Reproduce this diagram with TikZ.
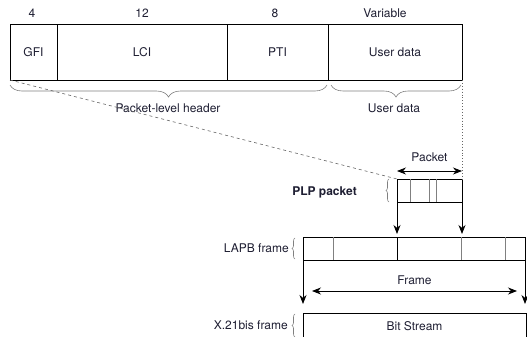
\documentclass[tikz,border=0pt]{standalone}
\usepackage{fontspec}
\setmainfont{TeX Gyre Heros}
\usetikzlibrary{arrows.meta,positioning,decorations.pathreplacing}
\definecolor{ink}{RGB}{30,30,50}

\begin{document}
\begin{tikzpicture}[x=1pt,y=-1pt,>={Stealth[length=9pt,width=7pt]},node distance=0pt,
  font=\fontsize{12}{14}\selectfont,
  txt/.style={text=ink,inner sep=0pt},
  cell/.style={draw,line width=0.8pt,minimum height=56pt,inner sep=0pt,outer sep=0pt,text=ink},
  strip/.style={draw,line width=0.8pt,minimum height=23pt,inner sep=0pt,outer sep=0pt,text=ink},
  divider/.style={gray,line width=0.8pt},
  brc/.style={gray,line width=0.6pt,decorate,decoration={brace,amplitude=#1}}]
  \useasboundingbox (0,0) rectangle (527,337);

  % Intestazione pacchetto
  \node[cell,minimum width=47pt] (gfi) at (33.5,52) {GFI};
  \node[cell,minimum width=170pt,right=of gfi] (lci) {LCI};
  \node[cell,minimum width=101pt,right=of lci] (pti) {PTI};
  \node[cell,minimum width=134pt,right=of pti] (udata) {User data};

  % Lunghezze in bit
  \node[txt] (len4) at (32,13) {4};
  \node[txt] (len12) at (142,13) {12};
  \node[txt] (len8) at (275,13) {8};
  \node[txt] (lenvar) at (385,13) {Variable};

  % Graffe sotto
  \draw[brc=12] (327,85) -- (10,85);
  \draw[brc=12] (461,85) -- (331,85);
  \node[txt] (hdr) at (168,108) {Packet-level header};
  \node[txt] (udlbl) at (394,108) {User data};

  % Pacchetto PLP
  \node[strip,minimum width=65pt] (plp) at (429.5,190.5) {};
  \foreach \dx in {13,32,39}
    \draw[divider] ([xshift=\dx pt]plp.north west) -- ([xshift=\dx pt]plp.south west);
  \draw[brc=3] (389,202) -- (389,179);
  \node[txt,anchor=east,font=\fontsize{12}{14}\selectfont\bfseries] (plplbl) at (357,192) {PLP packet};
  \draw[<->,line width=0.8pt] ([yshift=8pt]plp.north west) -- node[txt,above=9pt] (pktlbl) {Packet} ([yshift=8pt]plp.north east);

  % Linee di proiezione
  \draw[dashed,gray!80!black,line width=0.6pt] (gfi.south west) -- (plp.north west);
  \draw[dotted,gray!80!black,line width=0.9pt] (udata.south east) -- (plp.north east);

  % Trama LAPB
  \node[strip,minimum width=222pt] (lapb) at (414,248.5) {};
  \foreach \dx in {30,158,202}
    \draw[divider] ([xshift=\dx pt]lapb.north west) -- ([xshift=\dx pt]lapb.south west);
  \draw[line width=0.8pt] ([xshift=94pt]lapb.north west) -- ([xshift=94pt]lapb.south west);
  \draw[brc=3] (295,259) -- (295,238);
  \node[txt,anchor=east] (lapblbl) at (289,248) {LAPB frame};
  \draw[->,line width=0.8pt,shorten >=3pt] (plp.south west) -- (plp.south west |- lapb.north);
  \draw[->,line width=0.8pt,shorten >=3pt] (plp.south east) -- (plp.south east |- lapb.north);

  % Flusso di bit
  \node[strip,minimum width=223pt,minimum height=26pt] (bits) at (414.5,326) {Bit Stream};
  \draw[brc=3] (295,337) -- (295,314);
  \node[txt,anchor=east] (x21lbl) at (288,325) {X.21bis frame};
  \draw[->,line width=0.8pt,shorten >=9pt] (lapb.south west) -- (lapb.south west |- bits.north);
  \draw[->,line width=0.8pt,shorten >=9pt] (lapb.south east) -- (lapb.south east |- bits.north);
  \draw[<->,line width=0.8pt] ([xshift=9pt,yshift=-31pt]lapb.south west) -- node[txt,above=6pt] (framelbl) {Frame} ([xshift=-8pt,yshift=-31pt]lapb.south east);
\end{tikzpicture}
\end{document}
